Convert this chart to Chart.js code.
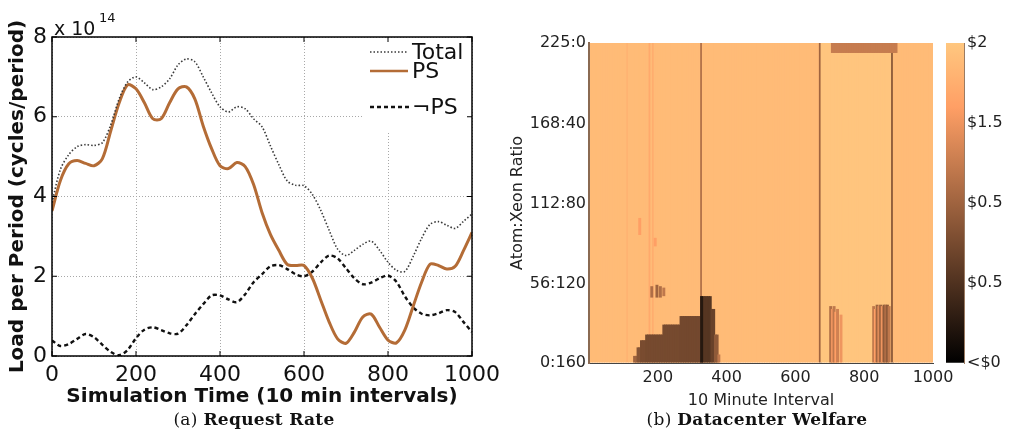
<!DOCTYPE html>
<html>
<head>
<meta charset="utf-8">
<script src="https://cdn.jsdelivr.net/npm/chart.js@4.4.1/dist/chart.umd.min.js"></script>
<style>
  html, body { margin: 0; padding: 0; background: #fff; }
  #page { position: relative; width: 1010px; height: 444px; overflow: hidden; }
  .box { position: absolute; top: 0; }
  .box canvas { display: block; }
  .caption { position: absolute; top: 410px; line-height: 18px; font-family: "DejaVu Serif", "Liberation Serif", serif;
             font-size: 17px; letter-spacing: 0.3px; color: #111; white-space: nowrap; transform: translateX(-50%); }
</style>
</head>
<body>
<div id="page">
  <div class="box" style="left:0;width:500px;height:410px"><canvas id="load" width="500" height="410"></canvas></div>
  <div class="box" style="left:500px;width:470px;height:410px"><canvas id="welfare" width="470" height="410"></canvas></div>
  <div class="box" style="left:940px;width:70px;height:410px"><canvas id="colorbar" width="70" height="410"></canvas></div>
  <div class="caption" style="left:254px">(a) <b>Request Rate</b></div>
  <div class="caption" style="left:757px">(b) <b>Datacenter Welfare</b></div>
</div>
<script>
// ---- (a) request rate, load in units of 1e14 cycles/period ----
const simTime = [0, 20, 40, 60, 80, 100, 120, 140, 160, 180, 200, 220, 240, 260, 280, 300, 320, 340, 360, 380,
  400, 420, 440, 460, 480, 500, 520, 540, 560, 580, 600, 620, 640, 660, 680, 700, 720, 740, 760, 780,
  800, 820, 840, 860, 880, 900, 920, 940, 960, 980, 1000];
const totalLoad = [3.85, 4.68, 5.05, 5.25, 5.3, 5.28, 5.35, 5.8, 6.45, 6.87, 7.0, 6.85, 6.68, 6.75, 6.95, 7.3, 7.45, 7.38, 7.0, 6.6,
  6.25, 6.12, 6.25, 6.2, 5.95, 5.75, 5.27, 4.8, 4.39, 4.28, 4.27, 4.05, 3.65, 3.15, 2.68, 2.52, 2.65, 2.8, 2.88, 2.65,
  2.35, 2.15, 2.12, 2.5, 2.95, 3.3, 3.37, 3.28, 3.2, 3.38, 3.56];
const psLoad = [3.64, 4.4, 4.82, 4.9, 4.83, 4.77, 4.95, 5.65, 6.35, 6.8, 6.7, 6.35, 5.95, 5.95, 6.35, 6.7, 6.75, 6.45, 5.77, 5.2,
  4.77, 4.7, 4.85, 4.75, 4.3, 3.6, 3.05, 2.65, 2.3, 2.27, 2.27, 1.95, 1.4, 0.85, 0.43, 0.32, 0.6, 0.98, 1.05, 0.72,
  0.4, 0.33, 0.65, 1.25, 1.85, 2.3, 2.27, 2.18, 2.25, 2.65, 3.1];
const notPsLoad = [0.39, 0.25, 0.3, 0.43, 0.55, 0.47, 0.28, 0.1, 0.02, 0.15, 0.45, 0.66, 0.72, 0.65, 0.57, 0.56, 0.77, 1.05, 1.3, 1.52,
  1.52, 1.42, 1.35, 1.55, 1.85, 2.05, 2.25, 2.28, 2.18, 2.05, 2.0, 2.12, 2.35, 2.52, 2.45, 2.2, 1.95, 1.8, 1.84, 1.95,
  2.02, 1.86, 1.5, 1.22, 1.06, 1.02, 1.07, 1.15, 1.1, 0.85, 0.6];
const seriesNames = ['Total', 'PS', '\u00ACPS'];

// ---- (b) datacenter welfare, level on the colour scale (0 = <$0, 1 = $2) ----
const ratioTicks = [0, 56, 112, 168, 225];
const ratioLabels = ['0:160', '56:120', '112:80', '168:40', '225:0'];
const colorbarTicks = [0, 0.25, 0.5, 0.75, 1];
const colorbarLabels = ['<$0', '$0.5', '$0.5', '$1.5', '$2'];
// [from, to, level] for whole columns
const welfareColumns = [[0, 1000, 0.94], [670, 880, 0.99]];
// thin full-height stripes [from, to, level]
const welfareLines = [[110, 115, 0.9], [175, 180, 0.85], [185, 190, 0.87], [325, 330, 0.55], [670, 675, 0.5], [880, 885, 0.42]];
// low welfare block at the bottom [from, to, atoms top, level]
const welfareLow = [[130, 140, 5, 0.5], [140, 150, 11, 0.42], [150, 165, 16, 0.38], [165, 215, 20, 0.37],
  [215, 265, 27, 0.37], [265, 325, 33, 0.36], [325, 355, 47, 0.27], [355, 365, 38, 0.33],
  [365, 375, 20, 0.45], [375, 380, 6, 0.6]];
// small patches [from, to, atoms low, atoms high, level]
const welfarePatches = [[325, 330, 0, 47, 0.12],
  [180, 185, 46, 54, 0.55], [195, 200, 46, 55, 0.5], [205, 210, 46, 54, 0.55], [215, 220, 47, 53, 0.6],
  [145, 150, 90, 102, 0.8], [190, 195, 82, 88, 0.8],
  [700, 705, 0, 40, 0.55], [705, 710, 0, 38, 0.75], [710, 715, 0, 40, 0.6], [715, 720, 0, 36, 0.8],
  [720, 725, 0, 38, 0.65], [730, 735, 0, 34, 0.75],
  [825, 830, 0, 40, 0.6], [830, 835, 0, 38, 0.8], [835, 840, 0, 41, 0.5], [840, 845, 0, 40, 0.7],
  [845, 850, 0, 41, 0.5], [850, 855, 0, 40, 0.75], [855, 860, 0, 41, 0.45], [860, 865, 0, 41, 0.55],
  [865, 870, 0, 41, 0.45], [870, 875, 0, 40, 0.6],
  [705, 895, 218, 225, 0.62]];

const sans = '"DejaVu Sans", Verdana, sans-serif';

function copper(v) {
  const r = Math.round(255 * Math.min(1, 1.25 * v));
  const g = Math.round(255 * 0.7812 * v);
  const b = Math.round(255 * 0.4975 * v);
  return 'rgb(' + r + ',' + g + ',' + b + ')';
}

function points(values) {
  return simTime.map((t, i) => ({x: t, y: values[i]}));
}

// frame, inner ticks, exponent and legend in matlab style
const loadDecor = {
  id: 'loadDecor',
  afterDraw(chart) {
    const {ctx, chartArea: a, scales: {x, y}} = chart;
    ctx.save();
    // legend
    ctx.fillStyle = '#fff';
    ctx.fillRect(362, a.top + 1, a.right - 363, 95);
    const rows = [52, 71, 107];
    chart.data.datasets.forEach((ds, i) => {
      ctx.beginPath();
      ctx.strokeStyle = ds.borderColor;
      ctx.lineWidth = Math.min(ds.borderWidth, 2.4);
      ctx.setLineDash(ds.borderDash || []);
      ctx.moveTo(370, rows[i]);
      ctx.lineTo(i == 2 ? 412 : 408, rows[i]);
      ctx.stroke();
      ctx.setLineDash([]);
      ctx.fillStyle = '#111';
      ctx.font = '22px ' + sans;
      ctx.textBaseline = 'middle';
      ctx.fillText(ds.label, 412, rows[i] + 1);
    });
    // box and ticks
    ctx.strokeStyle = '#000';
    ctx.lineWidth = 1.5;
    ctx.strokeRect(a.left, a.top, a.right - a.left, a.bottom - a.top);
    ctx.lineWidth = 1;
    ctx.beginPath();
    x.ticks.forEach(tk => {
      const px = x.getPixelForValue(tk.value);
      ctx.moveTo(px, a.bottom); ctx.lineTo(px, a.bottom - 5);
      ctx.moveTo(px, a.top); ctx.lineTo(px, a.top + 5);
    });
    y.ticks.forEach(tk => {
      const py = y.getPixelForValue(tk.value);
      ctx.moveTo(a.left, py); ctx.lineTo(a.left + 5, py);
      ctx.moveTo(a.right, py); ctx.lineTo(a.right - 5, py);
    });
    ctx.stroke();
    // exponent
    ctx.fillStyle = '#111';
    ctx.textBaseline = 'alphabetic';
    ctx.font = '19px ' + sans;
    ctx.fillText('x 10', 54, 35);
    ctx.font = '13px ' + sans;
    ctx.fillText('14', 99, 22);
    ctx.restore();
  }
};

new Chart(document.getElementById('load'), {
  type: 'line',
  data: {
    datasets: [{
      label: seriesNames[0],
      data: points(totalLoad),
      borderColor: '#3a3a3a',
      borderWidth: 1.6,
      borderDash: [1.5, 2],
      pointRadius: 0,
      tension: 0.3
    }, {
      label: seriesNames[1],
      data: points(psLoad),
      borderColor: '#b46c36',
      borderWidth: 3,
      pointRadius: 0,
      tension: 0.3
    }, {
      label: seriesNames[2],
      data: points(notPsLoad),
      borderColor: '#111',
      borderWidth: 2.4,
      borderDash: [4, 3],
      pointRadius: 0,
      tension: 0.3
    }]
  },
  options: {
    responsive: false,
    animation: false,
    layout: {padding: {left: 0, top: 37, right: 28, bottom: 0}},
    plugins: {legend: {display: false}, tooltip: {enabled: false}},
    scales: {
      x: {
        type: 'linear', min: 0, max: 1000,
        ticks: {stepSize: 200, color: '#111', font: {family: sans, size: 22}, padding: 6, maxRotation: 0,
                callback: v => String(v)},
        grid: {color: '#a8a8a8', lineWidth: 1, drawTicks: false},
        border: {display: false, dash: [1, 2]},
        title: {display: true, text: 'Simulation Time (10 min intervals)', color: '#111',
                font: {family: sans, size: 20, weight: 'bold'}, padding: {top: 0, bottom: 1}},
        afterFit(scale) { scale.height = 54; scale.paddingLeft = 0; scale.paddingRight = 0; }
      },
      y: {
        min: 0, max: 8,
        ticks: {stepSize: 2, color: '#111', font: {family: sans, size: 22}, padding: 5},
        grid: {color: '#a8a8a8', lineWidth: 1, drawTicks: false},
        border: {display: false, dash: [1, 2]},
        title: {display: true, text: 'Load per Period (cycles/period)', color: '#111',
                font: {family: sans, size: 20, weight: 'bold'}, padding: {top: 6, bottom: 0}},
        afterFit(scale) { scale.width = 52; }
      }
    }
  },
  plugins: [loadDecor]
});

// ---- heatmap as floating bars, one bar per 5-interval column ----
const colCenters = [];
for (let c = 0; c < 200; c++) colCenters.push(c * 5 + 2.5);

function levelAt(list, t) {
  let v = null;
  list.forEach(r => { if (t >= r[0] && t < r[1]) v = r[r.length - 1]; });
  return v;
}

const baseData = colCenters.map(t => ({x: t, y: [0, 225]}));
const baseColors = colCenters.map(t => {
  const line = levelAt(welfareLines, t);
  return copper(line !== null ? line : levelAt(welfareColumns, t));
});
const lowData = [], lowColors = [];
welfareLow.forEach(([from, to, top, lv]) => {
  colCenters.filter(t => t >= from && t < to).forEach(t => {
    lowData.push({x: t, y: [0, top]});
    lowColors.push(copper(lv));
  });
});
const patchData = [], patchColors = [];
welfarePatches.forEach(([from, to, lo, hi, lv]) => {
  colCenters.filter(t => t >= from && t < to).forEach(t => {
    patchData.push({x: t, y: [lo, hi]});
    patchColors.push(copper(lv));
  });
});

// wide overlap so neighbouring columns leave no seams
const barStyle = {grouped: false, barPercentage: 1.7, categoryPercentage: 1, borderWidth: 0};

new Chart(document.getElementById('welfare'), {
  type: 'bar',
  data: {
    datasets: [
      Object.assign({label: 'base', data: baseData, backgroundColor: baseColors, order: 3}, barStyle),
      Object.assign({label: 'low', data: lowData, backgroundColor: lowColors, order: 2}, barStyle),
      Object.assign({label: 'patch', data: patchData, backgroundColor: patchColors, order: 1}, barStyle)
    ]
  },
  options: {
    responsive: false,
    animation: false,
    layout: {padding: {left: 0, top: 43, right: 37, bottom: 0}},
    plugins: {legend: {display: false}, tooltip: {enabled: false}},
    scales: {
      x: {
        type: 'linear', min: 0, max: 1000, offset: false,
        ticks: {stepSize: 200, color: '#222', font: {family: sans, size: 16}, padding: 5, maxRotation: 0,
                callback: v => v === 0 ? '' : String(v)},
        grid: {display: true, drawOnChartArea: false, drawTicks: false},
        border: {display: true, color: '#444', width: 1, z: 1},
        title: {display: true, text: '10 Minute Interval', color: '#222',
                font: {family: sans, size: 16}, padding: {top: 0, bottom: 0}},
        afterFit(scale) { scale.height = 47; scale.paddingLeft = 0; scale.paddingRight = 0; }
      },
      y: {
        min: 0, max: 225,
        afterBuildTicks(scale) { scale.ticks = ratioTicks.map(v => ({value: v})); },
        ticks: {color: '#222', font: {family: sans, size: 16}, padding: 3,
                callback: (v, i) => ratioLabels[i]},
        grid: {display: true, drawOnChartArea: false, drawTicks: false},
        border: {display: true, color: '#8a6a52', width: 2, z: 1},
        title: {display: true, text: 'Atom:Xeon Ratio', color: '#222',
                font: {family: sans, size: 16}, padding: {top: 8, bottom: 0}},
        afterFit(scale) { scale.width = 89; }
      }
    }
  }
});

// ---- colour bar ----
new Chart(document.getElementById('colorbar'), {
  type: 'bar',
  data: {
    labels: ['welfare'],
    datasets: [{
      data: [[0, 1]],
      barPercentage: 1, categoryPercentage: 1, borderWidth: 0,
      backgroundColor(ctx) {
        const area = ctx.chart.chartArea;
        if (!area) return copper(0.5);
        const g = ctx.chart.ctx.createLinearGradient(0, area.bottom, 0, area.top);
        [0, 0.8, 1].forEach(v => g.addColorStop(v, copper(v)));
        return g;
      }
    }]
  },
  options: {
    responsive: false,
    animation: false,
    layout: {padding: {left: 6, top: 43, right: 0, bottom: 47}},
    plugins: {legend: {display: false}, tooltip: {enabled: false}},
    scales: {
      x: {display: false},
      y: {
        position: 'right', min: 0, max: 1,
        afterBuildTicks(scale) { scale.ticks = colorbarTicks.map(v => ({value: v})); },
        ticks: {color: '#222', font: {family: sans, size: 16}, padding: 3,
                callback: (v, i) => colorbarLabels[i]},
        grid: {display: true, drawOnChartArea: false, drawTicks: false},
        border: {display: true, color: '#9b7b62', width: 1, z: 1},
        afterFit(scale) { scale.width = 46; }
      }
    }
  }
});
</script>
</body>
</html>
